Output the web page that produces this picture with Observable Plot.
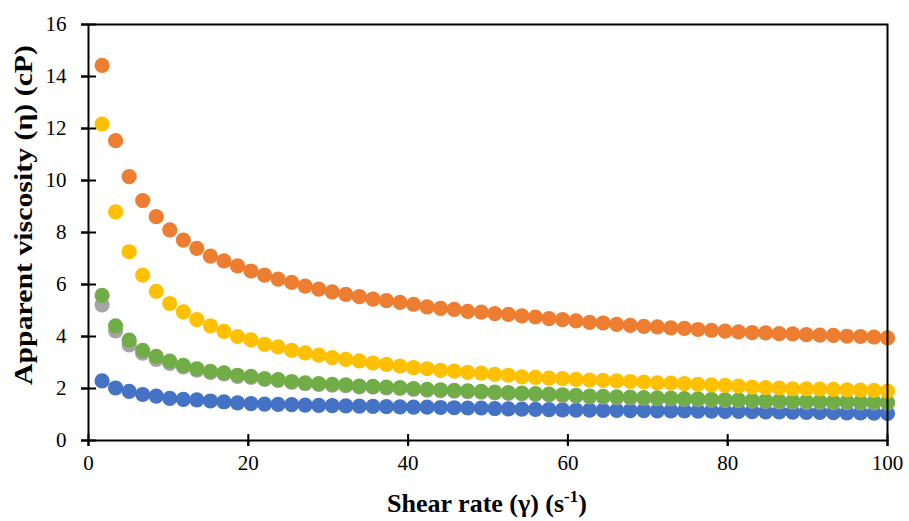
<!DOCTYPE html>
<html><head><meta charset="utf-8">
<script src="https://cdn.jsdelivr.net/npm/d3@7"></script>
<script src="https://cdn.jsdelivr.net/npm/@observablehq/plot@0.6"></script>
<style>body{margin:0;background:#fff}</style>
</head><body><div id="chart"></div>
<script>
const shearRate = [1.70,3.39,5.09,6.78,8.48,10.17,11.87,13.56,15.26,16.95,18.65,20.34,22.04,23.73,25.43,27.12,28.82,30.51,32.21,33.90,35.60,37.29,38.99,40.68,42.38,44.07,45.77,47.46,49.16,50.85,52.55,54.24,55.94,57.63,59.33,61.02,62.72,64.41,66.11,67.80,69.50,71.19,72.89,74.58,76.28,77.97,79.67,81.36,83.06,84.75,86.45,88.14,89.84,91.53,93.23,94.92,96.62,98.31,100.0];
const series1 = [2.29,2.02,1.89,1.77,1.71,1.62,1.58,1.56,1.52,1.49,1.45,1.42,1.40,1.39,1.38,1.36,1.35,1.34,1.33,1.32,1.31,1.30,1.29,1.28,1.28,1.27,1.26,1.25,1.25,1.23,1.22,1.21,1.20,1.19,1.18,1.17,1.17,1.16,1.16,1.15,1.15,1.14,1.14,1.14,1.13,1.13,1.12,1.12,1.11,1.10,1.10,1.09,1.08,1.08,1.07,1.06,1.06,1.05,1.04];
const series2 = [5.22,4.22,3.68,3.36,3.12,2.97,2.83,2.71,2.62,2.56,2.47,2.43,2.35,2.31,2.24,2.19,2.16,2.13,2.11,2.06,2.05,2.02,2.00,1.97,1.94,1.92,1.90,1.88,1.86,1.83,1.81,1.79,1.77,1.75,1.73,1.71,1.68,1.67,1.65,1.64,1.62,1.61,1.60,1.58,1.57,1.55,1.54,1.53,1.51,1.50,1.49,1.48,1.47,1.47,1.46,1.46,1.45,1.45,1.44];
const series3 = [5.58,4.41,3.86,3.47,3.24,3.05,2.89,2.76,2.66,2.60,2.51,2.47,2.38,2.34,2.27,2.22,2.19,2.16,2.14,2.09,2.08,2.05,2.03,2.00,1.97,1.95,1.93,1.91,1.89,1.86,1.84,1.82,1.80,1.78,1.76,1.74,1.71,1.70,1.68,1.67,1.65,1.64,1.63,1.61,1.60,1.58,1.57,1.56,1.54,1.53,1.52,1.51,1.50,1.50,1.49,1.49,1.48,1.48,1.47];
const series4 = [12.17,8.79,7.26,6.36,5.74,5.27,4.95,4.65,4.41,4.20,4.00,3.87,3.70,3.60,3.47,3.37,3.28,3.19,3.12,3.06,2.98,2.93,2.86,2.80,2.76,2.70,2.67,2.62,2.59,2.54,2.51,2.45,2.43,2.40,2.38,2.35,2.32,2.31,2.29,2.27,2.25,2.22,2.21,2.19,2.16,2.14,2.12,2.09,2.05,2.03,2.02,1.99,1.99,1.98,1.97,1.95,1.94,1.93,1.90];
const series5 = [14.43,11.53,10.15,9.23,8.61,8.10,7.71,7.39,7.09,6.91,6.72,6.52,6.36,6.21,6.08,5.94,5.82,5.72,5.62,5.53,5.44,5.38,5.31,5.24,5.14,5.08,5.04,4.97,4.94,4.88,4.85,4.79,4.75,4.69,4.65,4.60,4.54,4.52,4.47,4.43,4.39,4.37,4.33,4.31,4.27,4.24,4.21,4.18,4.15,4.14,4.11,4.10,4.07,4.05,4.04,4.01,4.00,3.98,3.95];
const seriesNames = ["S1", "S2", "S3", "S4", "S5"];
const seriesColors = ["#4472C4", "#A5A5A5", "#70AD47", "#FFC000", "#ED7D31"];
const seriesValues = [series1, series2, series3, series4, series5];
const xTicks = [0,20,40,60,80,100];
const yTicks = [0,2,4,6,8,10,12,14,16];
const rows = seriesNames.flatMap((name, k) => seriesValues[k].map((v, i) => ({series: name, x: shearRate[i], y: v})));

const fam = "'Liberation Serif', 'Times New Roman', serif";
const chart = Plot.plot({
  width: 909, height: 521,
  marginLeft: 88, marginRight: 22, marginTop: 24, marginBottom: 81,
  style: {fontFamily: fam, fontSize: "21px", color: "#000", background: "#fff"},
  x: {domain: [0, 100], ticks: xTicks, label: null},
  y: {domain: [0, 16], ticks: yTicks, label: null},
  color: {type: "ordinal", domain: seriesNames, range: seriesColors},
  marks: [
    Plot.dot(rows, {x: "x", y: "y", fill: "series", r: 7.6, stroke: "none"}),
    Plot.frame({stroke: "#000", strokeWidth: 2}),
    Plot.axisY({ticks: yTicks, tickSize: 7, tickPadding: 15, strokeWidth: 2, fontSize: 21}),
    Plot.axisY({ticks: yTicks, tickSize: 15, dx: 8, text: null, strokeWidth: 2}),
    Plot.axisX({ticks: xTicks, tickSize: 6, tickPadding: 9, strokeWidth: 2, fontSize: 21}),
    Plot.axisX({ticks: xTicks, tickSize: 12, dy: -6, text: null, strokeWidth: 2})
  ]
});
document.getElementById("chart").appendChild(chart);

const svg = d3.select(chart);
const xt = svg.append("text")
  .attr("x", 487).attr("y", 512)
  .attr("text-anchor", "middle")
  .attr("font-family", fam).attr("font-weight", "bold").attr("font-size", 26)
  .attr("fill", "#000");
xt.append("tspan").text("Shear rate (γ) (s");
xt.append("tspan").attr("font-size", 17).attr("dy", -10).text("-1");
xt.append("tspan").attr("dy", 10).text(")");

svg.append("text")
  .attr("transform", "translate(32,215) rotate(-90)")
  .attr("text-anchor", "middle")
  .attr("font-family", fam).attr("font-weight", "bold").attr("font-size", 26)
  .attr("textLength", 340).attr("lengthAdjust", "spacingAndGlyphs")
  .attr("fill", "#000")
  .text("Apparent viscosity (η) (cP)");
</script>
</body></html>
